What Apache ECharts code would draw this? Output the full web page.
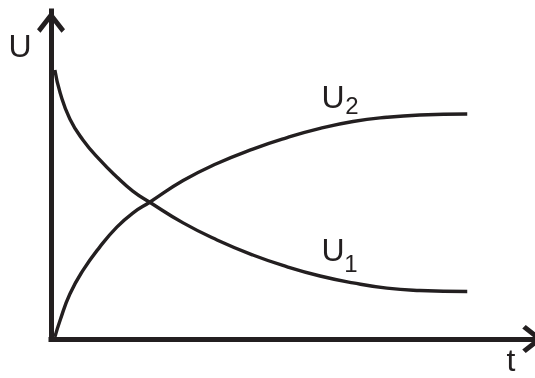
<!DOCTYPE html>
<html>
<head>
<meta charset="utf-8">
<script src="https://cdn.jsdelivr.net/npm/echarts@6/dist/echarts.min.js"></script>
<style>
  html, body { margin: 0; padding: 0; background: #fff; }
  #chart { width: 535px; height: 378px; }
</style>
</head>
<body>
<div id="chart"></div>
<script>
// t positions (0..100) and the two voltage curves
const tPoints = [0.8, 1.9, 3.9, 6.6, 10.1, 13.6, 16.9, 20.4, 27.3, 34.3, 41.7, 48.8, 55.6, 62.4, 69.4, 76.2, 86.0];
const u1Values = [82.0, 75.0, 67.1, 60.7, 54.6, 49.4, 45.1, 41.7, 35.4, 30.2, 25.6, 22.0, 19.2, 17.1, 15.5, 14.8, 14.5];
const u2Values = [0.6, 5.8, 13.7, 20.9, 28.1, 34.1, 38.4, 41.7, 48.3, 53.5, 57.9, 61.4, 64.2, 66.3, 67.6, 68.3, 68.6];
const axisNames = ['U', 't'];

const ink = '#231f20';
const font = 'Liberation Sans, Arial, sans-serif';

// open chevron arrow, pointing up
const arrowPath = 'path://M14,0 L28,18 L24.5,21.5 L14,8 L3.5,21.5 L0,18 Z';

const chart = echarts.init(document.getElementById('chart'));

function axisLine(offset) {
  return {
    show: true,
    symbol: ['none', arrowPath],
    symbolSize: [28, 22],
    symbolOffset: [0, offset],
    lineStyle: { color: ink, width: 5, cap: 'square' }
  };
}

const option = {
  animation: false,
  grid: { left: 51, right: 0, top: 11, bottom: 39 },
  xAxis: {
    type: 'value',
    min: 0,
    max: 100,
    axisLine: axisLine(-2),
    axisTick: { show: false },
    axisLabel: { show: false },
    splitLine: { show: false }
  },
  yAxis: {
    type: 'value',
    min: 0,
    max: 100,
    axisLine: axisLine(-11),
    axisTick: { show: false },
    axisLabel: { show: false },
    splitLine: { show: false }
  },
  series: [
    {
      name: 'U1',
      type: 'line',
      smooth: true,
      symbol: 'none',
      lineStyle: { color: ink, width: 3.4 },
      data: tPoints.map((t, i) => [t, u1Values[i]])
    },
    {
      name: 'U2',
      type: 'line',
      smooth: true,
      symbol: 'none',
      lineStyle: { color: ink, width: 3.4 },
      data: tPoints.map((t, i) => [t, u2Values[i]])
    }
  ],
  graphic: [
    { type: 'text', style: { text: axisNames[0], x: 20, y: 48, font: '32px ' + font, fill: ink, align: 'center', verticalAlign: 'middle' } },
    { type: 'text', style: { text: axisNames[1], x: 511, y: 362, font: '32px ' + font, fill: ink, align: 'center', verticalAlign: 'middle' } },
    { type: 'text', style: { text: 'U', x: 333, y: 99, font: '32px ' + font, fill: ink, align: 'center', verticalAlign: 'middle' } },
    { type: 'text', style: { text: '2', x: 352, y: 107, font: '24px ' + font, fill: ink, align: 'center', verticalAlign: 'middle' } },
    { type: 'text', style: { text: 'U', x: 333, y: 252, font: '32px ' + font, fill: ink, align: 'center', verticalAlign: 'middle' } },
    { type: 'text', style: { text: '1', x: 351, y: 265, font: '24px ' + font, fill: ink, align: 'center', verticalAlign: 'middle' } }
  ]
};

chart.setOption(option);
</script>
</body>
</html>
